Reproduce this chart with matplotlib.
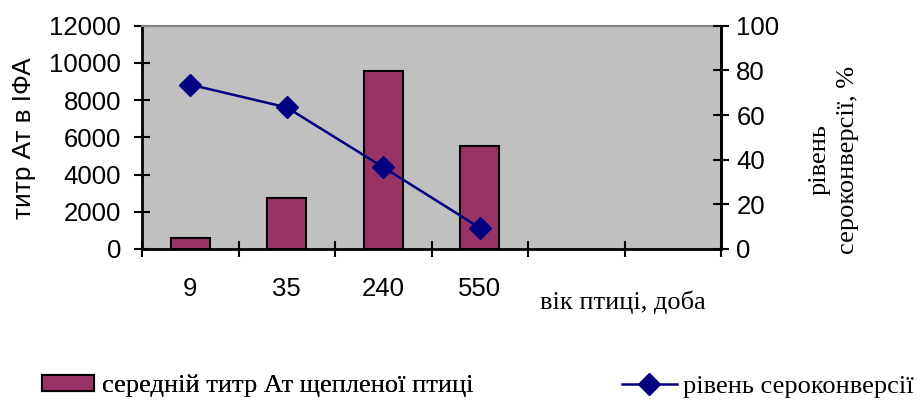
import matplotlib
matplotlib.use("Agg")
import matplotlib.pyplot as plt
from matplotlib.patches import Patch
from matplotlib.lines import Line2D

categories = ["9", "35", "240", "550"]
n_slots = 6
titer = [575, 2760, 9560, 5530]
seroconv = [73.6, 63.4, 36.6, 9.5]

SANS = "Liberation Sans"
SERIF = "Liberation Serif"
bar_color = "#993366"
line_color = "#000080"

fig = plt.figure(figsize=(9.17, 4.01), dpi=100)
W, H = 917, 401
l, r, t, b = 142, 721, 25.7, 249
ax = fig.add_axes([l / W, 1 - b / H, (r - l) / W, (b - t) / H])
ax.set_facecolor("#C0C0C0")

x = list(range(len(categories)))
ax.bar(x, titer, width=0.4, color=bar_color, edgecolor="black", linewidth=1.5, zorder=2)
ax.set_xlim(-0.5, n_slots - 0.5)
ax.set_ylim(0, 12000)
ax.set_yticks(range(0, 12001, 2000))
ax.set_xticks(x)
ax.set_xticklabels(categories)
ax.set_xticks([i - 0.5 for i in range(n_slots + 1)], minor=True)
ax.tick_params(axis="x", which="major", length=0, pad=20, labelsize=18.5)
ax.tick_params(axis="x", which="minor", length=12, width=1.5, direction="inout")
ax.tick_params(axis="y", length=12, width=1.5, direction="inout", pad=9, labelsize=18.5)
for lab in ax.get_xticklabels() + ax.get_yticklabels():
    lab.set_fontfamily(SANS)

for s in ["left", "bottom", "right"]:
    ax.spines[s].set_linewidth(2)
    ax.spines[s].set_color("black")
ax.spines["top"].set_color("#808080")
ax.spines["top"].set_linewidth(1.5)

ax2 = ax.twinx()
ax2.plot(x, seroconv, color=line_color, linewidth=1.8, marker="D", markersize=11, zorder=3)
ax2.set_ylim(0, 100)
ax2.set_yticks(range(0, 101, 20))
ax2.tick_params(axis="y", length=12, width=1.5, direction="inout", pad=5, labelsize=18.5)
for lab in ax2.get_yticklabels():
    lab.set_fontfamily(SANS)
for s in ["left", "bottom", "top"]:
    ax2.spines[s].set_visible(False)
ax2.spines["right"].set_linewidth(2)

fig.text(24 / W, 1 - 138 / H, "титр Ат в ІФА", rotation=90, ha="center", va="center",
         fontsize=18.8, family=SANS)
fig.text(834 / W, 1 - 160 / H, "рівень\nсероконверсії, %", rotation=90, ha="center",
         va="center", fontsize=19, family=SERIF, multialignment="center", linespacing=1.4)
fig.text(623 / W, 1 - 302 / H, "вік птиці, доба", ha="center", va="center",
         fontsize=19, family=SERIF)

h1 = Patch(facecolor=bar_color, edgecolor="black", linewidth=1.5)
h2 = Line2D([], [], color=line_color, linewidth=1.8, marker="D", markersize=11)
leg1 = fig.legend([h1], ["середній титр Ат щепленої птиці"], loc="center left",
                  bbox_to_anchor=(42 / W, 1 - 386 / H), frameon=False,
                  prop={"family": SERIF, "size": 19}, handlelength=1.97,
                  handleheight=0.6, handletextpad=0.3, borderaxespad=0, borderpad=0)
leg2 = fig.legend([h2], ["рівень сероконверсії"], loc="center left",
                  bbox_to_anchor=(622 / W, 1 - 386 / H), frameon=False,
                  prop={"family": SERIF, "size": 19}, handlelength=2.08,
                  handletextpad=0.23, borderaxespad=0, borderpad=0)
fig.add_artist(leg1)

fig.savefig("out.png", dpi=100)
